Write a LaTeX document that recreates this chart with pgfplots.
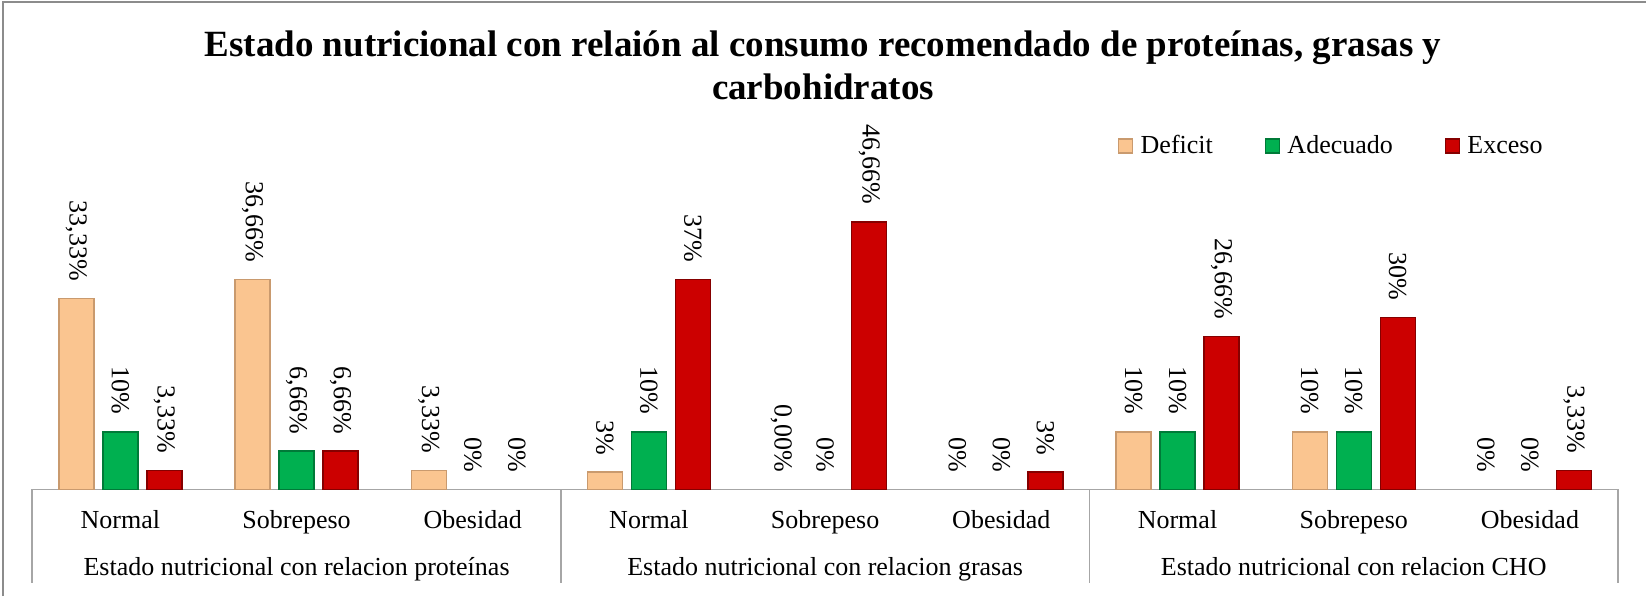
\documentclass[border=0pt]{standalone}
\usepackage{pgfplots}
\pgfplotsset{compat=1.18}
\usepackage{pgfplotstable}
\usepackage{fontspec}
\setmainfont{Liberation Serif}

\definecolor{defbase}{HTML}{FAC590}
\definecolor{defdark}{HTML}{C99A6E}
\definecolor{adebase}{HTML}{00B050}
\definecolor{adedark}{HTML}{007A38}
\definecolor{excbase}{HTML}{CC0000}
\definecolor{excdark}{HTML}{850000}
\definecolor{axisgray}{HTML}{A6A6A6}
\definecolor{framegray}{HTML}{8C8C8C}

\pgfplotstableread{
x y label
0 33.33 33,33
1 36.66 36,66
2 3.33 3,33
3 3 3
4 0 0,00
5 0 0
6 10 10
7 10 10
8 0 0
}\deficit

\pgfplotstableread{
x y label
0 10 10
1 6.66 6,66
2 0 0
3 10 10
4 0 0
5 0 0
6 10 10
7 10 10
8 0 0
}\adecuado

\pgfplotstableread{
x y label
0 3.33 3,33
1 6.66 6,66
2 0 0
3 36.66 37
4 46.66 46,66
5 3 3
6 26.66 26,66
7 30 30
8 3.33 3,33
}\exceso

\newcommand{\lblfont}{\fontsize{13}{15}\selectfont}

\pgfplotsset{
  barsty/.style={ybar, bar width=17.5pt, line width=0.7pt,
    y filter/.expression={y==0 ? nan : y}},
  lblsty/.style={ybar, bar width=17.5pt, bar shift=0pt, draw=none, fill=none, forget plot,
    nodes near coords={\pgfplotspointmeta\%},
    every node near coord/.append style={xshift=#1, rotate=-90, anchor=east, font=\lblfont,
      inner xsep=8.5pt, inner ysep=0pt, text=black}},
}

\begin{document}
\begin{tikzpicture}
\useasboundingbox (0,0) rectangle (823pt,298pt);
\draw[framegray, line width=1pt] (1.5pt,0) -- (1.5pt,297pt) -- (823pt,297pt);
\node[anchor=base, font=\fontsize{18.5}{22}\selectfont\bfseries] at (411.5pt,269.65pt)
  {Estado nutricional con relaión al consumo recomendado de proteínas, grasas y};
\node[anchor=base, font=\fontsize{18.5}{22}\selectfont\bfseries] at (411.5pt,248.15pt)
  {carbohidratos};
\begin{axis}[
  at={(16.15pt,53.35pt)}, anchor=south west,
  scale only axis, width=792.85pt, height=171.9pt,
  xmin=-0.5, xmax=8.5, ymin=0, ymax=60,
  unbounded coords=discard,
  axis y line=none,
  axis x line*=bottom,
  x axis line style={draw=axisgray, line width=0.8pt, -},
  xtick={0,...,8},
  xticklabels={Normal,Sobrepeso,Obesidad,Normal,Sobrepeso,Obesidad,Normal,Sobrepeso,Obesidad},
  major tick length=0pt,
  xticklabel style={font=\lblfont, anchor=base, yshift=-19.5pt, inner sep=0pt},
  clip=false,
  point meta=explicit symbolic,
  legend columns=3,
  legend image code/.code={\path[#1] (0pt,-3.5pt) rectangle (7pt,3.5pt);},
  legend style={at={(axis description cs:0.6845,0.9985)}, anchor=west, draw=none, fill=none,
    inner sep=0pt, font=\lblfont,
    nodes={inner sep=0pt},
    /tikz/every odd column/.append style={column sep=3.6pt},
    /tikz/every even column/.append style={column sep=26pt}},
]
\addplot[barsty, bar shift=-22pt, fill=defbase, draw=defdark] table[x=x, y=y, meta=label] {\deficit};
\addlegendentry{Deficit}
\addplot[barsty, bar shift=0pt, fill=adebase, draw=adedark] table[x=x, y=y, meta=label] {\adecuado};
\addlegendentry{Adecuado}
\addplot[barsty, bar shift=22pt, fill=excbase, draw=excdark] table[x=x, y=y, meta=label] {\exceso};
\addlegendentry{Exceso}
\addplot[lblsty=-22pt] table[x=x, y=y, meta=label] {\deficit};
\addplot[lblsty=0pt] table[x=x, y=y, meta=label] {\adecuado};
\addplot[lblsty=22pt] table[x=x, y=y, meta=label] {\exceso};
\draw[axisgray, line width=0.8pt] (axis cs:-0.5,0) -- ++(0pt,-46.85pt);
\draw[axisgray, line width=0.8pt] (axis cs:2.5,0) -- ++(0pt,-46.85pt);
\draw[axisgray, line width=0.8pt] (axis cs:5.5,0) -- ++(0pt,-46.85pt);
\draw[axisgray, line width=0.8pt] (axis cs:8.5,0) -- ++(0pt,-46.85pt);
\node[anchor=base, font=\lblfont] at (axis cs:1,0) [yshift=-42.85pt] {Estado nutricional con relacion proteínas};
\node[anchor=base, font=\lblfont] at (axis cs:4,0) [yshift=-42.85pt] {Estado nutricional con relacion grasas};
\node[anchor=base, font=\lblfont] at (axis cs:7,0) [yshift=-42.85pt] {Estado nutricional con relacion CHO};
\end{axis}
\end{tikzpicture}
\end{document}
